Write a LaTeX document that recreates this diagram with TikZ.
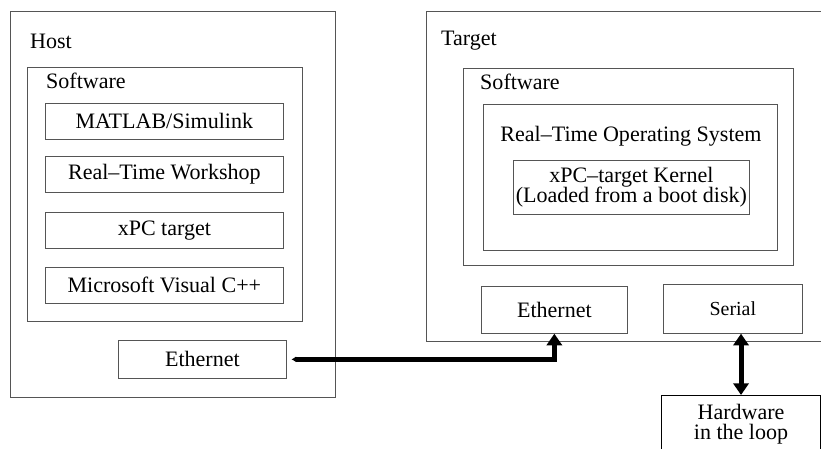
\documentclass[tikz,border=0pt]{standalone}
\usepackage{fontspec}
\setmainfont{Liberation Serif}
\usetikzlibrary{positioning,arrows.meta,calc}
\definecolor{edgegray}{HTML}{555555}

\begin{document}
\begin{tikzpicture}[x=0.03cm,y=-0.03cm,
      box/.style={draw=edgegray,line width=0.6pt,anchor=north west,inner sep=0pt,
                  font=\fontsize{18.8}{20.5}\selectfont,align=center},
      lbl/.style={anchor=west,inner sep=0pt,font=\fontsize{18.8}{20.5}\selectfont},
      conn/.style={line width=4.2pt,-{Triangle[length=10pt,width=13pt]}}]
    \clip (0,0) rectangle (821,448);
    \node[box,minimum width=325*0.03cm,minimum height=386*0.03cm](host) at (10,11) {};
    \node[lbl](hostlbl) at (30,41) {Host};
    \node[box,minimum width=275*0.03cm,minimum height=254*0.03cm](hsw) at (27,67) {};
    \node[lbl](hswlbl) at (46,81) {Software};
    \node[box,minimum width=238*0.03cm,minimum height=36*0.03cm](matlab) at (45,103) {MATLAB/Simulink};
    \node[box,minimum width=238*0.03cm,minimum height=36*0.03cm](rtw) at (45,156) {Real--Time Workshop};
    \node[box,minimum width=238*0.03cm,minimum height=36*0.03cm](xpc) at (45,212) {xPC target};
    \node[box,minimum width=238*0.03cm,minimum height=36*0.03cm](msvc) at (45,267) {Microsoft Visual C++};
    \node[box,minimum width=168*0.03cm,minimum height=38*0.03cm](heth) at (118,340) {Ethernet};
    \node[box,minimum width=410*0.03cm,minimum height=330*0.03cm](target) at (426,11) {};
    \node[lbl](targetlbl) at (441,41) {Target};
    \node[box,minimum width=330*0.03cm,minimum height=197*0.03cm](tsw) at (463,68) {};
    \node[lbl](tswlbl) at (480,82) {Software};
    \node[box,minimum width=294*0.03cm,minimum height=146*0.03cm](rtos) at (483,104) {};
    \node[font=\fontsize{18.8}{20.5}\selectfont](rtoslbl) at (631,136) {Real--Time Operating System};
    \node[box,minimum width=236*0.03cm,minimum height=54*0.03cm](kernel) at (513,160)
      {xPC--target Kernel\\[-3pt](Loaded from a boot disk)};
    \node[box,minimum width=146*0.03cm,minimum height=47*0.03cm](teth) at (481,286) {Ethernet};
    \node[box,minimum width=139*0.03cm,minimum height=49*0.03cm,font=\fontsize{17}{19}\selectfont](serial) at (663,284) {Serial};
    \node[box,minimum width=159*0.03cm,minimum height=70*0.03cm,draw=black,line width=0.9pt](hwloop) at (661,395) {};
    \node[font=\fontsize{18.8}{20.5}\selectfont,align=center,anchor=north](hwlbl) at ([yshift=-4pt]hwloop.north) {Hardware\\[-3pt]in the loop};
    \draw[conn,{Latex[length=4pt,width=5pt]}-{Triangle[length=10pt,width=13pt]}]
      ([xshift=4pt]heth.east) -| (teth.south);
    \draw[line width=4.2pt,{Triangle[length=10pt,width=13pt]}-{Triangle[length=10pt,width=13pt]}]
      (serial.south -| hwloop.north) -- (hwloop.north);
  \end{tikzpicture}
\end{document}
